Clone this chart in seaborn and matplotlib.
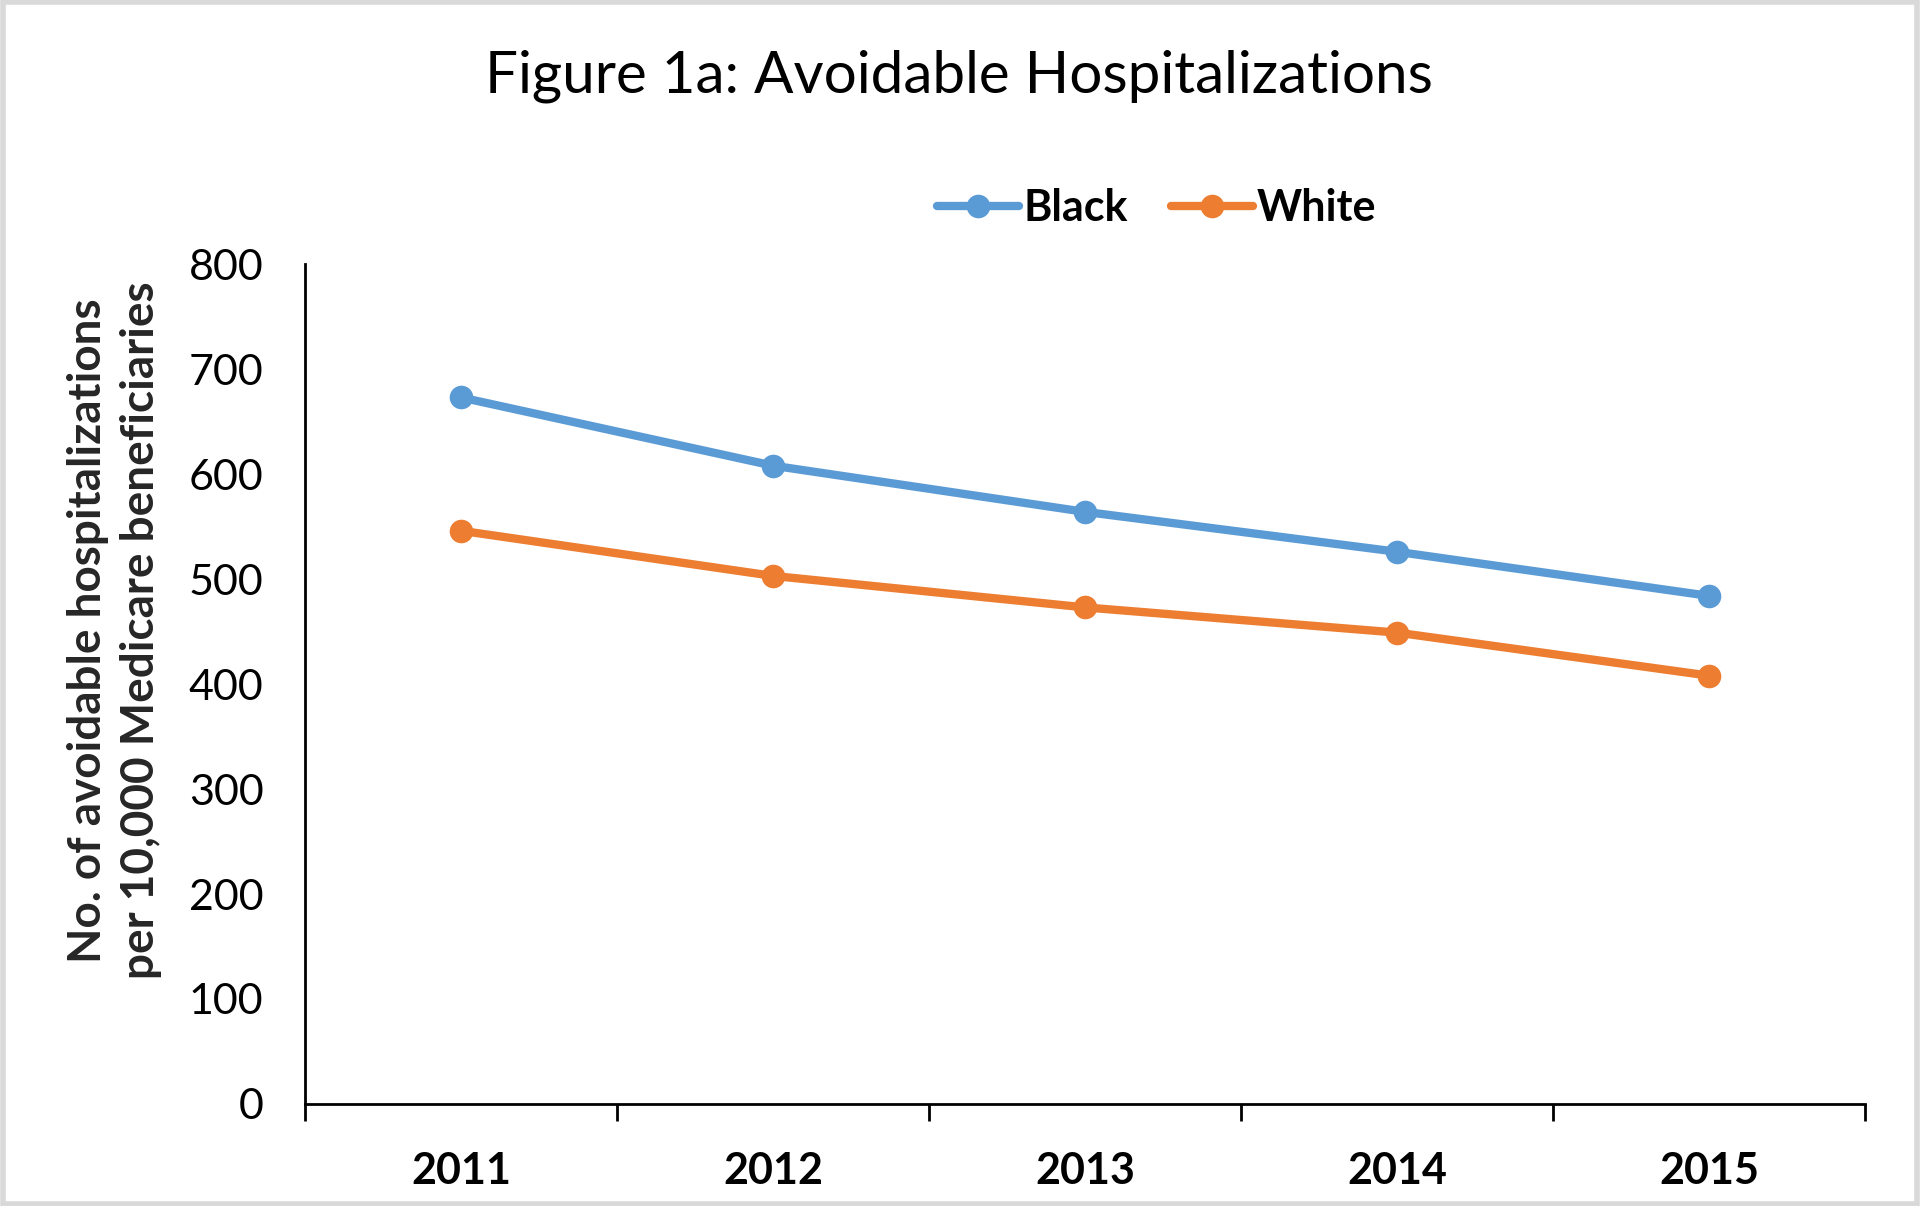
import matplotlib
matplotlib.use("Agg")
import matplotlib.pyplot as plt
import seaborn as sns
import pandas as pd
from matplotlib.patches import Rectangle
from matplotlib.ticker import FixedLocator, NullFormatter

years = ["2011", "2012", "2013", "2014", "2015"]
black = [673, 608, 564, 526, 484]
white = [546, 503, 473, 449, 408]
series_names = ["Black", "White"]
colors = ["#5B9BD5", "#ED7D31"]
yticks = [0, 100, 200, 300, 400, 500, 600, 700, 800]

df = pd.DataFrame({
    "pos": list(range(len(years))) * 2,
    "value": black + white,
    "group": [series_names[0]] * len(years) + [series_names[1]] * len(years),
})

sns.set_style("white")
plt.rcParams["font.family"] = ["Lato", "DejaVu Sans"]
plt.rcParams["text.color"] = "black"
plt.rcParams["xtick.color"] = "black"
plt.rcParams["ytick.color"] = "black"

fig = plt.figure(figsize=(19.2, 12.06), dpi=100)
ax = fig.add_axes([0.1589, 0.0846, 0.9714 - 0.1589, 0.781 - 0.0846])

sns.lineplot(data=df, x="pos", y="value", hue="group", palette=colors,
             marker="o", markersize=17, markeredgewidth=0, linewidth=6,
             ax=ax, legend=True)

ax.set_xlim(-0.5, len(years) - 0.5)
ax.set_ylim(0, 800)
ax.set_yticks(yticks)
ax.set_yticklabels([str(v) for v in yticks], fontsize=31)
ax.xaxis.set_major_locator(FixedLocator([i - 0.5 for i in range(len(years) + 1)]))
ax.xaxis.set_major_formatter(NullFormatter())
ax.xaxis.set_minor_locator(FixedLocator(list(range(len(years)))))
ax.set_xticklabels(years, minor=True, fontsize=31, fontweight="bold")
ax.tick_params(axis="x", which="major", direction="out", length=12, width=2, color="black", bottom=True)
ax.tick_params(axis="x", which="minor", length=0, pad=34)
ax.tick_params(axis="y", length=0, pad=30)

for s in ["top", "right"]:
    ax.spines[s].set_visible(False)
for s in ["left", "bottom"]:
    ax.spines[s].set_color("black")
    ax.spines[s].set_linewidth(2)

ax.set_xlabel("")
ax.set_ylabel("No. of avoidable hospitalizations\nper 10,000 Medicare beneficiaries",
              fontsize=33, fontweight="bold", linespacing=1.3)
ax.yaxis.set_label_coords(-0.092, 0.564)

leg = ax.legend(loc="center", bbox_to_anchor=(1157 / 1920, 1 - 208 / 1206),
                bbox_transform=fig.transFigure, ncol=2, frameon=False,
                prop={"size": 31, "weight": "bold"}, handlelength=1.9,
                handletextpad=0.1, columnspacing=1.0)

fig.text(959 / 1920, 1 - 76 / 1206, "Figure 1a: Avoidable Hospitalizations",
         ha="center", va="center", fontsize=42)

fig.patches.append(Rectangle((0.0015, 0.002), 0.997, 0.996, transform=fig.transFigure,
                             fill=False, edgecolor="#d9d9d9", linewidth=4))

fig.savefig("out.png", dpi=100, facecolor="white")
